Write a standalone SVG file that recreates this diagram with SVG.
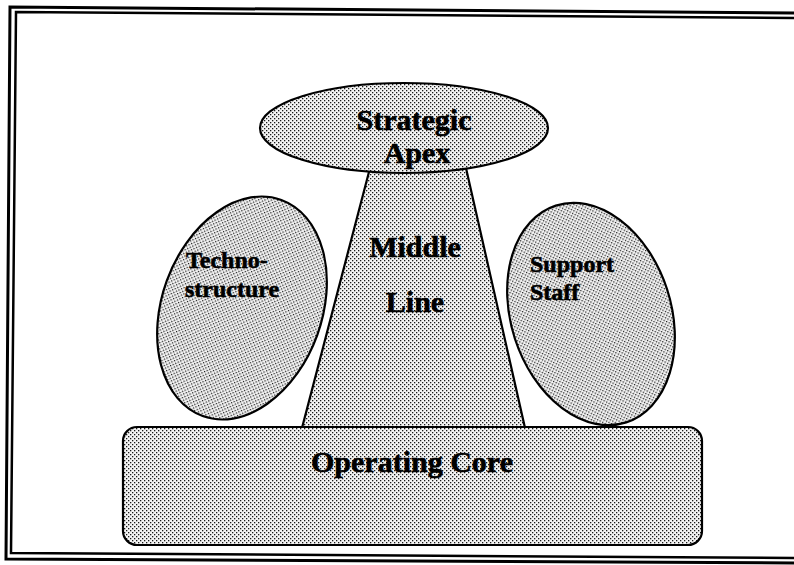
<svg xmlns="http://www.w3.org/2000/svg" width="794" height="565" viewBox="0 0 794 565">
  <defs>
    <pattern id="stipple" width="4" height="4" patternUnits="userSpaceOnUse">
      <rect width="4" height="4" fill="#f4f4f4"/>
      <rect x="0" y="0" width="1.3" height="1.3" fill="#1a1a1a"/>
      <rect x="2" y="2" width="1.3" height="1.3" fill="#1a1a1a"/>
    </pattern>
    <style>
      .shape { fill: url(#stipple); stroke: #000; stroke-width: 2.2; }
      .lbl { font-family: "Liberation Serif", "Times New Roman", serif; font-weight: bold; fill: #000; stroke: #000; stroke-width: 0.6; }
      .big { font-size: 30px; }
      .small { font-size: 24px; }
      .frame { fill: none; stroke: #000; }
    </style>
  </defs>
  <rect width="794" height="565" fill="#fff"/>

  <g id="frame">
    <polyline class="frame" stroke-width="3" points="794,13 10,7 6,559 794,563"/>
    <polyline class="frame" stroke-width="2.5" points="794,18 16,12 11,553 794,558"/>
  </g>

  <g id="connectors"></g>

  <g id="middle-line">
    <polygon class="shape" points="370,168 466,168 525,428 302,428"/>
    <text class="lbl big" x="415" y="257" text-anchor="middle">Middle</text>
    <text class="lbl big" x="415" y="312" text-anchor="middle">Line</text>
  </g>

  <g id="strategic-apex">
    <ellipse class="shape" cx="404" cy="128" rx="144" ry="45"/>
    <text class="lbl big" x="414" y="130" text-anchor="middle">Strategic</text>
    <text class="lbl big" x="417" y="163" text-anchor="middle">Apex</text>
  </g>

  <g id="technostructure">
    <ellipse class="shape" cx="242" cy="308" rx="80" ry="115" transform="rotate(20 242 308)"/>
    <text class="lbl small" x="186" y="268">Techno-</text>
    <text class="lbl small" x="185" y="297">structure</text>
  </g>

  <g id="support-staff">
    <ellipse class="shape" cx="591" cy="314" rx="80" ry="114" transform="rotate(-18 591 314)"/>
    <text class="lbl small" x="530" y="272">Support</text>
    <text class="lbl small" x="530" y="300">Staff</text>
  </g>

  <g id="operating-core">
    <rect class="shape" x="123" y="427" width="579" height="118" rx="14" ry="14"/>
    <text class="lbl big" x="412" y="472" text-anchor="middle">Operating Core</text>
  </g>
</svg>
